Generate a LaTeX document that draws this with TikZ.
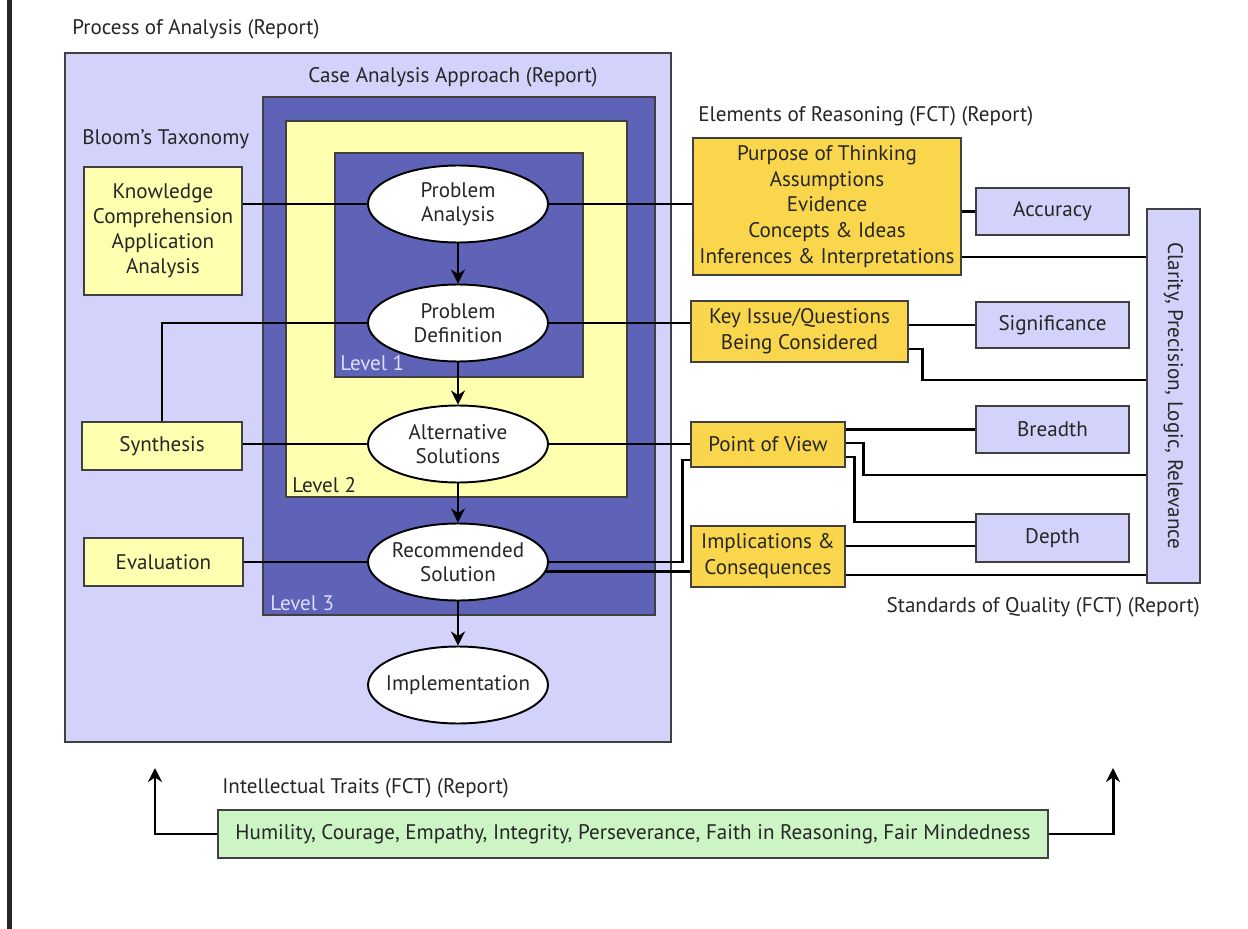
\documentclass[tikz,border=0pt]{standalone}
\usepackage{fontspec}
\setmainfont{PT Sans}
\usetikzlibrary{arrows.meta,shapes.geometric}
\definecolor{lavpale}{HTML}{D2D2FA}
\definecolor{navy}{HTML}{5F63B8}
\definecolor{paleyel}{HTML}{FFFFB0}
\definecolor{goldbox}{HTML}{FAD64C}
\definecolor{mintbox}{HTML}{CCF4C4}
\definecolor{edgegray}{HTML}{404040}
\definecolor{inktxt}{HTML}{262626}
\definecolor{levtxt}{HTML}{DCDCFF}
\begin{document}
\begin{tikzpicture}[x=0.02cm,y=-0.02cm,
    boxline/.style={draw=edgegray,line width=1.1pt,inner sep=0pt},
    stepnode/.style={shape=ellipse,draw=black,line width=1.1pt,fill=white,
      minimum width=3.6cm,minimum height=1.54cm,inner xsep=-0.3cm,inner ysep=-0.05cm,
      align=center,text=inktxt,font=\fontsize{12}{13.5}\selectfont},
    bloom/.style={boxline,fill=paleyel,align=center,text=inktxt,
      font=\fontsize{12}{14.2}\selectfont},
    elembox/.style={boxline,fill=goldbox,align=center,text=inktxt,
      font=\fontsize{12}{14.7}\selectfont},
    stdbox/.style={boxline,fill=lavpale,align=center,text=inktxt,
      font=\fontsize{12}{14}\selectfont,minimum width=3.06cm},
    heading/.style={inner sep=0pt,text=inktxt,font=\fontsize{12}{13}\selectfont},
    lvl/.style={inner sep=0pt,anchor=base west,font=\fontsize{12}{13}\selectfont},
    link/.style={line width=1.7pt,black},
    flow/.style={link,-{Stealth[length=8pt,width=8pt]}}]
\useasboundingbox (0,0) rectangle (1248,929);
%%%% Left bar and nested frames
    \fill[black!85] (7,0) rectangle (12,929);
    \node[boxline,fill=lavpale,minimum width=12.12cm,minimum height=13.78cm] (outer) at (368,397.5) {};
    \node[boxline,fill=navy,minimum width=7.84cm,minimum height=10.36cm] (lev3) at (459,356) {};
    \node[boxline,fill=paleyel,minimum width=6.82cm,minimum height=7.52cm] (lev2) at (456.5,309) {};
    \node[boxline,fill=navy,minimum width=4.96cm,minimum height=4.48cm] (lev1) at (459,265) {};
    \node[lvl,text=levtxt] (lev1txt) at (340,371) {Level 1};
    \node[lvl,text=inktxt] (lev2txt) at (292,492) {Level 2};
    \node[lvl,text=levtxt] (lev3txt) at (270,610) {Level 3};
%%%% Headings
    \node[heading,anchor=base west] (hproc) at (72,35) {Process of Analysis (Report)};
    \node[heading,anchor=base] (hcase) at (453,83) {Case Analysis Approach (Report)};
    \node[heading,anchor=base west] (hbloom) at (82,145) {Bloom's Taxonomy};
    \node[heading,anchor=base west] (helem) at (698,122) {Elements of Reasoning (FCT) (Report)};
    \node[heading,anchor=base east] (hstd) at (1200,612) {Standards of Quality (FCT) (Report)};
    \node[heading,anchor=base west] (htrait) at (222,793) {Intellectual Traits (FCT) (Report)};
%%%% Process steps
    \node[stepnode] (pa) at (458,204) {Problem\\Analysis};
    \node[stepnode] (pd) at (458,323) {Problem\\Definition};
    \node[stepnode] (as) at (458,444) {Alternative\\Solutions};
    \node[stepnode] (rs) at (458,562) {Recommended\\Solution};
    \node[stepnode] (im) at (458,685) {Implementation};
%%%% Bloom boxes
    \node[bloom,minimum width=3.16cm,minimum height=2.56cm] (know) at (163,231) {Knowledge\\Comprehension\\Application\\Analysis};
    \node[bloom,minimum width=3.2cm,minimum height=0.96cm] (synth) at (162,446) {Synthesis};
    \node[bloom,minimum width=3.18cm,minimum height=0.96cm] (evalu) at (163.5,562) {Evaluation};
%%%% Elements of reasoning
    \node[elembox,minimum width=5.36cm,minimum height=2.74cm] (elem) at (827,206.5) {Purpose of Thinking\\Assumptions\\Evidence\\Concepts \& Ideas\\Inferences \& Interpretations};
    \node[elembox,minimum width=4.34cm,minimum height=1.22cm] (keyiss) at (799.5,331.5) {Key Issue/Questions\\Being Considered};
    \node[elembox,minimum width=3.08cm,minimum height=0.9cm] (pov) at (768,444.5) {Point of View};
    \node[elembox,minimum width=3.08cm,minimum height=1.22cm] (impl) at (768,556.5) {Implications \&\\Consequences};
%%%% Standards of quality
    \node[stdbox,minimum height=0.94cm] (accu) at (1052.5,211.5) {Accuracy};
    \node[stdbox,minimum height=0.92cm] (signif) at (1052.5,325) {Significance};
    \node[stdbox,minimum height=0.94cm] (bread) at (1052.5,429.5) {Breadth};
    \node[stdbox,minimum height=0.96cm] (depth) at (1052.5,538) {Depth};
    \node[boxline,fill=lavpale,minimum width=1.06cm,minimum height=7.48cm] (clar) at (1173.5,396) {};
    \node[rotate=-90,text=inktxt,font=\fontsize{12}{13}\selectfont] (clartxt) at (clar.center) {Clarity, Precision, Logic, Relevance};
%%%% Intellectual traits
    \node[boxline,fill=mintbox,minimum width=16.6cm,minimum height=0.96cm,text=inktxt,font=\fontsize{12}{13}\selectfont] (traits) at (633,834) {Humility, Courage, Empathy, Integrity, Perseverance, Faith in Reasoning, Fair Mindedness};
    \coordinate (upL) at (155,768);
    \coordinate (upR) at (1113,768);
    \coordinate (povin) at (682,460);
%%%% Flow between steps
    \draw[flow] (pa) -- (pd);
    \draw[flow] (pd) -- (as);
    \draw[flow] (as) -- (rs);
    \draw[flow] (rs) -- (im);
%%%% Bloom links
    \draw[link] (know.east |- pa.west) -- (pa.west);
    \draw[link] (synth.north) |- (pd.west);
    \draw[link] (synth.east |- as.west) -- (as.west);
    \draw[link] (evalu.east) -- (rs.west);
%%%% Steps to elements
    \draw[link] (pa.east) -- (elem.west |- pa.east);
    \draw[link] (pd.east) -- (keyiss.west |- pd.east);
    \draw[link] (as.east) -- (pov.west |- as.east);
    \draw[link] (rs.east) -| (povin) -- (pov.west |- povin);
    \draw[link] (rs.-6) -- (rs.-6 -| impl.west);
%%%% Elements to standards
    \draw[link] (elem.east |- accu.west) -- (accu.west);
    \draw[link] (elem.east |- 0,257) -- (clar.west |- 0,257);
    \draw[link] (keyiss.east |- signif.west) -- (signif.west);
    \draw[link] (keyiss.east |- 0,349) -- ++(14,0) |- (clar.west |- 0,380);
    \draw[link] (pov.east |- bread.west) -- (bread.west);
    \draw[link] (pov.east |- 0,443) -- ++(18,0) |- (clar.west |- 0,475);
    \draw[link] (pov.east |- 0,457) -- ++(9,0) |- (depth.west |- 0,522);
    \draw[link] (impl.east |- 0,546) -- (depth.west |- 0,546);
    \draw[link] (impl.east |- 0,575) -- (clar.west |- 0,575);
%%%% Traits arrows
    \draw[flow] (traits.west) -| (upL);
    \draw[flow] (traits.east) -| (upR);
\end{tikzpicture}
\end{document}
